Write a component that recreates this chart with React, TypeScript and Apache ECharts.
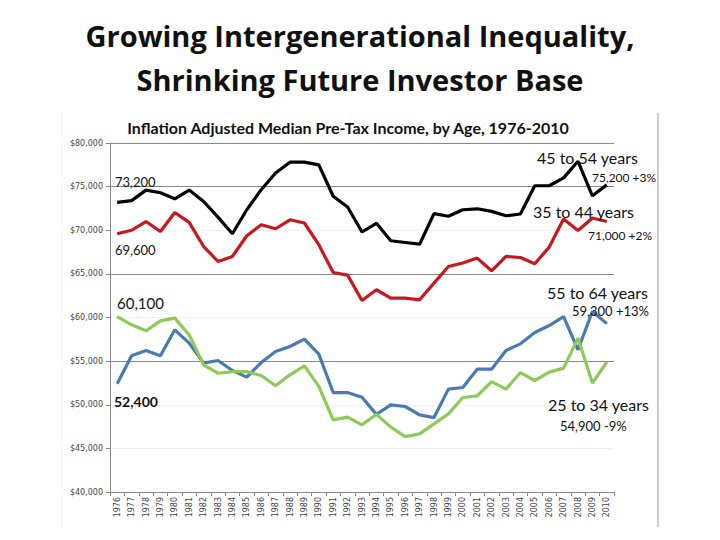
import React, { useEffect, useRef } from "react";
import * as echarts from "echarts";

const years = [
  "1976","1977","1978","1979","1980","1981","1982","1983","1984","1985",
  "1986","1987","1988","1989","1990","1991","1992","1993","1994","1995",
  "1996","1997","1998","1999","2000","2001","2002","2003","2004","2005",
  "2006","2007","2008","2009","2010",
];

const age45to54 = [
  73200, 73400, 74600, 74300, 73600, 74600, 73300, 71500, 69600, 72350,
  74650, 76560, 77800, 77800, 77500, 73900, 72660, 69800, 70800, 68800,
  68600, 68400, 71900, 71600, 72350, 72460, 72160, 71660, 71860, 75100,
  75100, 76000, 77900, 73950, 75200,
];

const age35to44 = [
  69600, 70000, 71000, 69860, 72040, 70900, 68140, 66420, 67000, 69370,
  70630, 70170, 71200, 70830, 68340, 65160, 64860, 61950, 63180, 62220,
  62220, 62030, 63940, 65850, 66240, 66810, 65350, 67000, 66880, 66160,
  68070, 71280, 69980, 71400, 71000,
];

const age55to64 = [
  52400, 55610, 56220, 55610, 58590, 57060, 54770, 55070, 53920, 53170,
  54840, 56100, 56680, 57520, 55800, 51400, 51400, 50870, 48900, 49990,
  49800, 48840, 48530, 51790, 51980, 54080, 54080, 56220, 56980, 58280,
  59080, 60110, 56300, 60690, 59300,
];

const age25to34 = [
  60100, 59160, 58470, 59620, 59930, 58000, 54570, 53610, 53800, 53800,
  53350, 52170, 53430, 54460, 52100, 48270, 48580, 47700, 48900, 47430,
  46350, 46660, 47810, 48960, 50830, 51020, 52660, 51790, 53690, 52780,
  53740, 54200, 57640, 52480, 54900,
];

const FONT = "Lato, 'Open Sans', sans-serif";
const TITLE_FONT = "'Open Sans', Lato, sans-serif";

export default function App() {
  const ref = useRef<HTMLDivElement>(null);

  useEffect(() => {
    if (!ref.current) return;
    const chart = echarts.init(ref.current, null, { renderer: "svg" });

    const txt = (
      x: number,
      y: number,
      text: string,
      size: number,
      weight: string | number = "normal",
      align: string = "left",
      family: string = FONT
    ) => ({
      type: "text",
      x,
      y,
      style: {
        text,
        fontSize: size,
        fontWeight: weight,
        fontFamily: family,
        fill: "#111",
        textAlign: align,
        textVerticalAlign: "middle",
      },
      z: 100,
    });

    const series = [
      { name: "45 to 54 years", data: age45to54, color: "#000000" },
      { name: "35 to 44 years", data: age35to44, color: "#c8171d" },
      { name: "55 to 64 years", data: age55to64, color: "#4a7ab4" },
      { name: "25 to 34 years", data: age25to34, color: "#8fc95a" },
    ];

    chart.setOption({
      animation: false,
      backgroundColor: "#ffffff",
      grid: { left: 110, right: 106, top: 143, bottom: 48, containLabel: false },
      xAxis: {
        type: "category",
        data: years,
        boundaryGap: true,
        axisLine: { lineStyle: { color: "#888", width: 1 } },
        axisTick: { show: true, alignWithLabel: false, length: 4, lineStyle: { color: "#888" } },
        axisLabel: {
          rotate: 90,
          interval: 0,
          fontSize: 8,
          color: "#444",
          fontFamily: "'DejaVu Sans', sans-serif",
          margin: 5,
        },
      },
      yAxis: {
        type: "value",
        min: 40000,
        max: 80000,
        interval: 5000,
        axisLine: { show: true, lineStyle: { color: "#888", width: 1 } },
        axisTick: { show: true, length: 4, lineStyle: { color: "#888" } },
        axisLabel: {
          fontSize: 8,
          color: "#444",
          fontFamily: "'DejaVu Sans', sans-serif",
          margin: 7,
          formatter: (v: number) => "$" + v.toLocaleString("en-US"),
        },
        splitLine: {
          show: true,
          lineStyle: {
            color: ["#bbb", "#eee", "#eee", "#888", "#eee", "#888", "#eee", "#888", "#888"],
            width: 1,
          },
        },
      },
      series: series.map((s) => ({
        type: "line",
        name: s.name,
        data: s.data,
        symbol: "none",
        smooth: false,
        lineStyle: { color: s.color, width: 3.2 },
        itemStyle: { color: s.color },
      })),
      graphic: [
        {
          type: "line",
          shape: { x1: 658, y1: 113, x2: 658, y2: 527 },
          style: { stroke: "#999", lineWidth: 1 },
        },
        {
          type: "line",
          shape: { x1: 62, y1: 113, x2: 62, y2: 527 },
          style: { stroke: "#f2f2f2", lineWidth: 1 },
        },
        txt(360, 35, "Growing Intergenerational Inequality,", 29, "bold", "center", TITLE_FONT),
        txt(360, 79, "Shrinking Future Investor Base", 29, "bold", "center", TITLE_FONT),
        txt(348, 127, "Inflation Adjusted Median Pre-Tax Income, by Age, 1976-2010", 16, "bold", "center"),
        txt(115, 182, "73,200", 13),
        txt(115, 250, "69,600", 13),
        txt(117, 303, "60,100", 15),
        txt(114, 401, "52,400", 14, "bold"),
        txt(537, 157, "45 to 54 years", 16),
        txt(592, 177, "75,200 +3%", 12),
        txt(533, 211, "35 to 44 years", 16),
        txt(588, 235, "71,000 +2%", 12),
        txt(547, 292, "55 to 64 years", 16),
        txt(572, 311, "59,300 +13%", 13),
        txt(548, 404, "25 to 34 years", 16),
        txt(560, 426, "54,900 -9%", 13),
      ],
    });

    return () => chart.dispose();
  }, []);

  return <div ref={ref} style={{ width: 720, height: 540, position: "absolute", left: 0, top: 0 }} />;
}
